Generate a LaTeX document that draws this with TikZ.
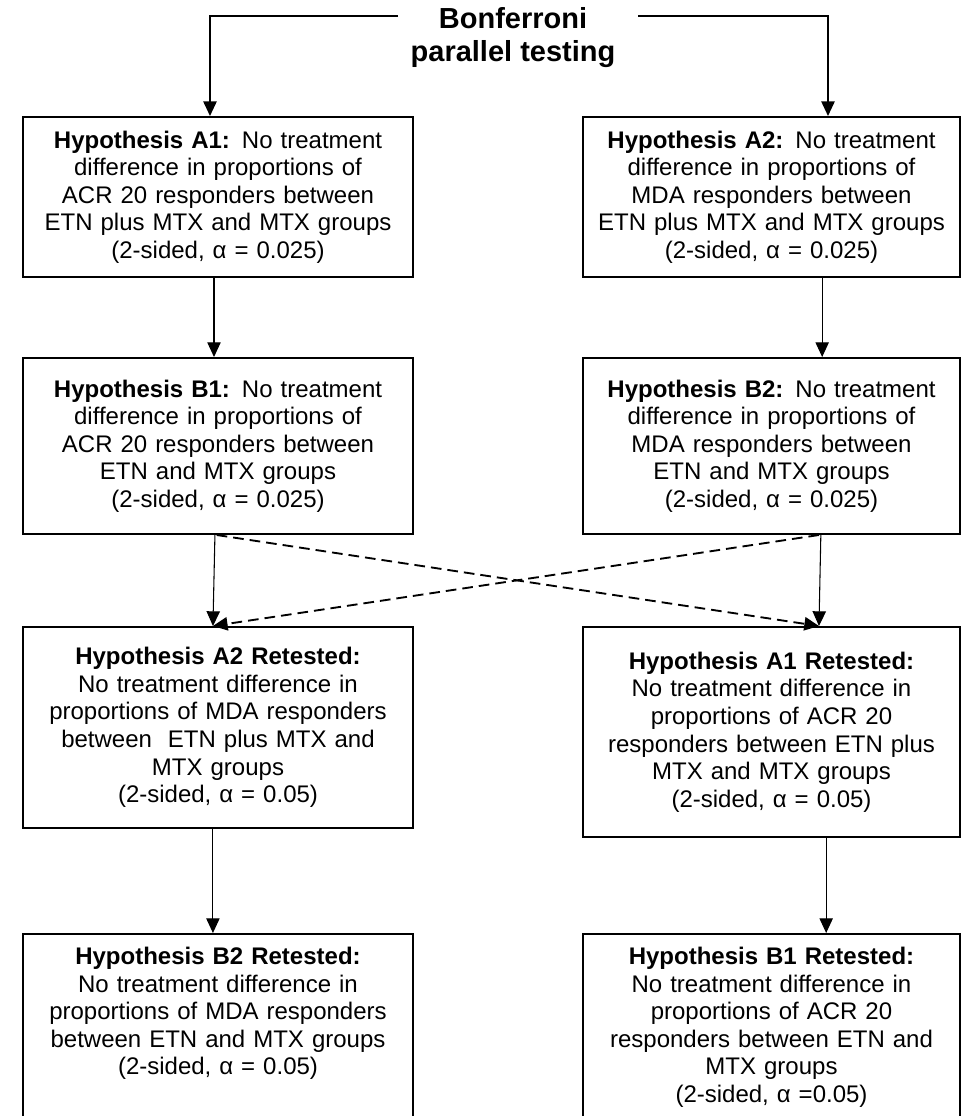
\documentclass[tikz,border=0pt]{standalone}
\usepackage{fontspec}
\setmainfont{Liberation Sans}
\usetikzlibrary{arrows.meta}
\newcommand{\tailgap}[1]{\rule[-#1]{0pt}{#1}}

\begin{document}
\begin{tikzpicture}[x=0.75pt,y=-0.75pt,>={Triangle[length=11pt,width=10pt]},
      box/.style={draw,line width=1.5pt,anchor=north,align=center,inner xsep=7.5pt,
        inner ysep=0pt,font=\fontsize{18pt}{20.7pt}\selectfont},
      lbox/.style={box,text width=277.5pt},
      rbox/.style={box,text width=267.75pt},
      link/.style={->,line width=0.8pt},
      cross/.style={->,line width=1.4pt,dash pattern=on 8pt off 4.5pt}]
      \useasboundingbox (0,0) rectangle (961,1116);
      \clip (0,0) rectangle (961,1116);

      \node[align=center,font=\fontsize{21.75pt}{24.75pt}\selectfont\bfseries] (title) at (513,38)
        {Bonferroni\\parallel testing};
      \coordinate (tl) at (398,16);
      \coordinate (tlc) at (210,16);
      \coordinate (tr) at (638,16);
      \coordinate (trc) at (828,16);

      \node[lbox,minimum height=120pt] (a1) at (218,116)
        {\textbf{Hypothesis A1:} No treatment\\difference in proportions of\\ACR 20 responders between\\ETN plus MTX and MTX groups\\(2-sided, α = 0.025)};
      \node[rbox,minimum height=120pt] (a2) at (771.5,116)
        {\textbf{Hypothesis A2:} No treatment\\difference in proportions of\\MDA responders between\\ETN plus MTX and MTX groups\\(2-sided, α = 0.025)};
      \node[lbox,minimum height=132pt] (b1) at (218,357)
        {\textbf{Hypothesis B1:} No treatment\\difference in proportions of\\ACR 20 responders between\\ETN and MTX groups\\(2-sided, α = 0.025)};
      \node[rbox,minimum height=132pt] (b2) at (771.5,357)
        {\textbf{Hypothesis B2:} No treatment\\difference in proportions of\\MDA responders between\\ETN and MTX groups\\(2-sided, α = 0.025)};
      \node[lbox,minimum height=150.75pt] (a2r) at (218,626)
        {\textbf{Hypothesis A2 Retested:}\\No treatment difference in\\proportions of MDA responders\\between~ ETN plus MTX and\\MTX groups\\(2-sided, α = 0.05)};
      \node[rbox,minimum height=157.5pt] (a1r) at (771.5,626)
        {\textbf{Hypothesis A1 Retested:}\\No treatment difference in\\proportions of ACR 20\\responders between ETN plus\\MTX and MTX groups\\(2-sided, α = 0.05)};
      \node[lbox,minimum height=172.5pt] (b2r) at (218,933)
        {\textbf{Hypothesis B2 Retested:}\\No treatment difference in\\proportions of MDA responders\\between ETN and MTX groups\\(2-sided, α = 0.05)\tailgap{57pt}};
      \node[rbox,minimum height=172.5pt] (b1r) at (771.5,933)
        {\textbf{Hypothesis B1 Retested:}\\No treatment difference in\\proportions of ACR 20\\responders between ETN and\\MTX groups\\(2-sided, α =0.05)\tailgap{36.4pt}};

      \draw[->,line width=1.3pt] (tl) -- (tlc) -- (tlc |- a1.north);
      \draw[->,line width=1.3pt] (tr) -- (trc) -- (trc |- a2.north);

      \path[link]
      ([xshift=-3pt]a1.south) edge ([xshift=-3pt]b1.north)
      ([xshift=38pt]a2.south) edge ([xshift=38pt]b2.north)
      ([xshift=-2.3pt]b1.south) edge ([xshift=-3.8pt]a2r.north)
      ([xshift=37pt]b2.south) edge ([xshift=35.6pt]a1r.north)
      ([xshift=-3.8pt]a2r.south) edge ([xshift=-3.8pt]b2r.north)
      ([xshift=41pt]a1r.south) edge ([xshift=41pt]b1r.north)
      ;
      \path[cross]
      ([xshift=-1pt]b1.south) edge ([xshift=35.6pt]a1r.north)
      ([xshift=35.6pt]b2.south) edge ([xshift=-3.8pt]a2r.north)
      ;
      \end{tikzpicture}
\end{document}
